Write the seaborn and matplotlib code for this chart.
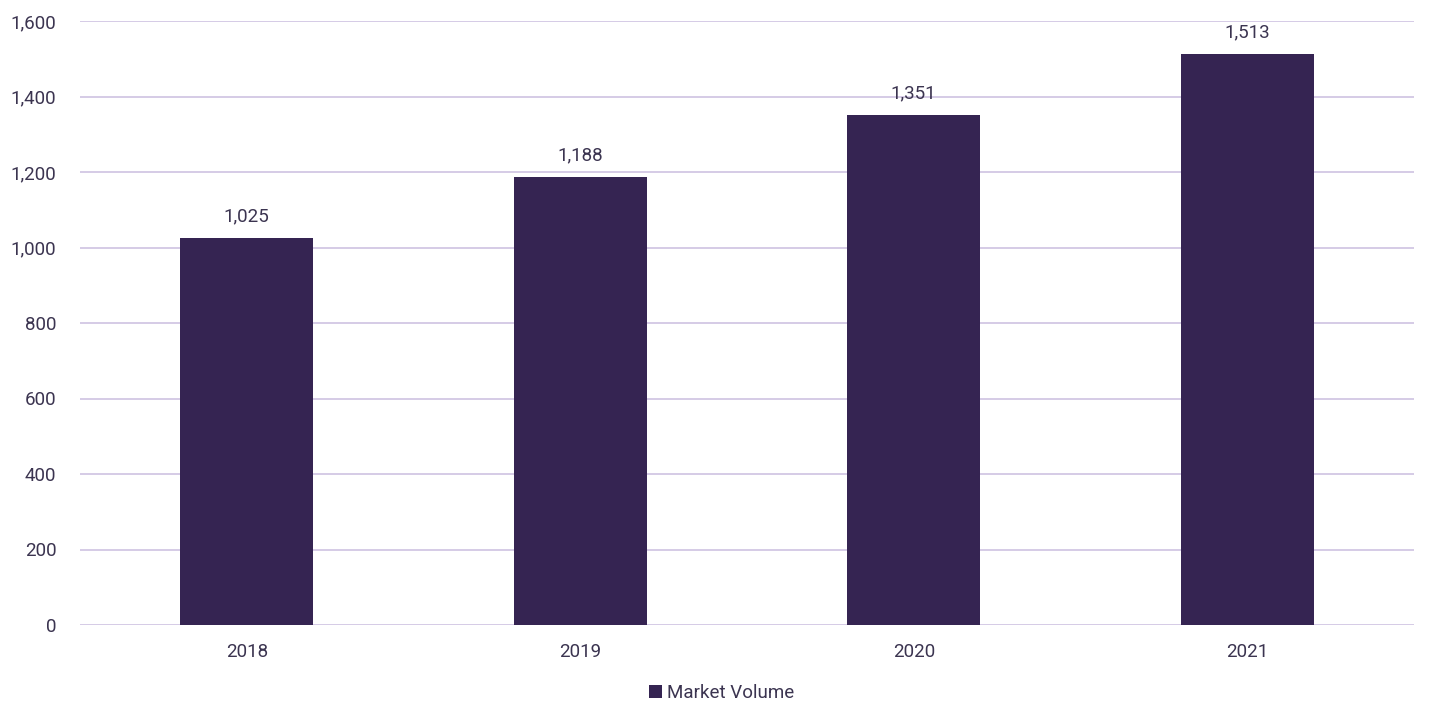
import pandas as pd
import numpy as np
import matplotlib.pyplot as plt
import seaborn as sns
from matplotlib.ticker import FuncFormatter

# chart data
years = ["2018", "2019", "2020", "2021"]
market_volume = [1025, 1188, 1351, 1513]
yticks = [0, 200, 400, 600, 800, 1000, 1200, 1400, 1600]

bar_color = "#352452"
grid_color = "#D5CBE6"
text_color = "#3B3450"

df = pd.DataFrame({"Year": years, "Market Volume": market_volume})

sns.set_theme(style="white")
plt.rcParams["font.family"] = ["Roboto", "DejaVu Sans"]

fig = plt.figure(figsize=(14.36, 7.21), dpi=100)
ax = fig.add_axes([80 / 1436, 1 - 625 / 721, 1334 / 1436, 604 / 721])

sns.barplot(data=df, x="Year", y="Market Volume", color=bar_color,
            width=0.4, saturation=1, ax=ax, zorder=3, label="Market Volume",
            linewidth=0)

ax.set_ylim(0, 1600)
ax.set_xlim(-0.5, 3.5)
ax.set_yticks(yticks)
ax.yaxis.set_major_formatter(FuncFormatter(lambda v, p: f"{int(v):,}"))
ax.grid(axis="y", color=grid_color, linewidth=1.4, zorder=0)
ax.grid(axis="x", visible=False)
for s in ax.spines.values():
    s.set_visible(False)
ax.tick_params(axis="both", length=0, labelsize=13.5, colors=text_color)
ax.tick_params(axis="y", pad=17)
ax.tick_params(axis="x", pad=13)
ax.set_xlabel("")
ax.set_ylabel("")

# value labels on top of bars
for i, v in enumerate(market_volume):
    ax.annotate(f"{v:,}", (i, v), xytext=(0, 9), textcoords="offset points",
                ha="center", va="bottom", fontsize=13.5, color=text_color)

leg = ax.legend(loc="upper center", bbox_to_anchor=(0.481, -0.07), frameon=False,
                fontsize=13.5, handlelength=0.7, handleheight=0.7, handletextpad=0.3)
for t in leg.get_texts():
    t.set_color(text_color)

plt.savefig("out.png", dpi=100)
